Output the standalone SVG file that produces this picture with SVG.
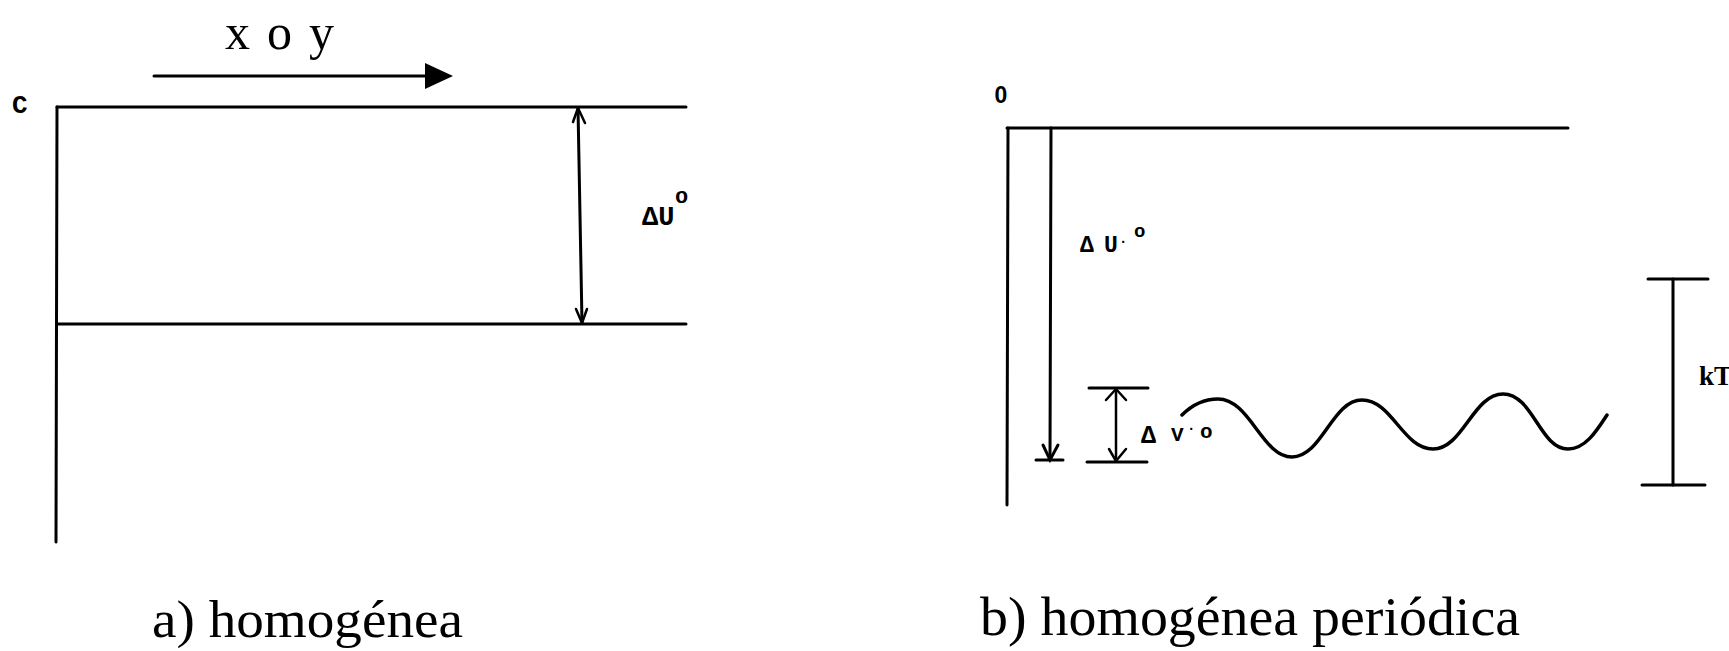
<svg xmlns="http://www.w3.org/2000/svg" width="1729" height="651" viewBox="0 0 1729 651">
<style>
.ln{stroke:#000;stroke-width:3;fill:none;stroke-linecap:round}
.thin{stroke:#000;stroke-width:2.5;fill:none;stroke-linecap:round;stroke-linejoin:round}
.wave{stroke:#000;stroke-width:3.5;fill:none;stroke-linecap:round;stroke-linejoin:round}
.cap{font-family:"Liberation Serif",serif;fill:#000}
.mono{font-family:"Liberation Mono",monospace;font-weight:bold;fill:#000}
.sans{font-family:"Liberation Sans",sans-serif;font-weight:bold;fill:#000}
.bold{font-family:"Liberation Serif",serif;font-weight:bold;fill:#000}
</style>
<rect width="1729" height="651" fill="#fff"/>

<g id="panel-a">
  <g id="a-axes">
    <text class="mono" x="12" y="113" font-size="26">C</text>
    <line class="ln" x1="57" y1="107" x2="686" y2="107"/>
    <line class="ln" x1="57" y1="107" x2="56" y2="542"/>
    <line class="ln" x1="57" y1="324" x2="686" y2="324"/>
  </g>
  <g id="a-direction">
    <text class="cap" x="225" y="49" font-size="50" textLength="109" lengthAdjust="spacing">x o y</text>
  </g>
  <g id="a-label">
    <text class="mono" font-size="27"><tspan x="642" y="225">ΔU</tspan><tspan x="675" y="203" font-size="22">o</tspan></text>
  </g>
  <text class="cap" x="152" y="637" font-size="53" textLength="311" lengthAdjust="spacingAndGlyphs">a) homogénea</text>
</g>

<g id="panel-b">
  <g id="b-axes">
    <text class="sans" x="1001" y="103" font-size="23" text-anchor="middle">0</text>
    <line class="ln" x1="1007" y1="128" x2="1568" y2="128"/>
    <line class="ln" x1="1008" y1="128" x2="1007" y2="505"/>
  </g>
  <g id="b-label-du">
    <text class="mono" font-size="23"><tspan x="1080" y="252">Δ</tspan><tspan x="1104" y="252">U</tspan><tspan x="1119" y="246" font-size="14">·</tspan><tspan x="1134" y="237" font-size="19">o</tspan></text>
  </g>
  <g id="b-label-dv">
    <text class="mono" font-size="25"><tspan x="1141" y="443">Δ</tspan><tspan x="1171" y="441" font-size="21">V</tspan><tspan x="1187" y="433" font-size="14">·</tspan><tspan x="1200" y="438" font-size="21">o</tspan></text>
  </g>
  <g id="b-wave">
    <path class="wave" d="M1182,415 C1192,405 1203,399 1218,399 C1250,399 1262,457 1292,457 C1322,457 1332,400 1362,400 C1392,400 1403,449 1433,449 C1463,449 1473,394 1503,394 C1533,394 1540,449 1568,449 C1585,449 1596,432 1607,415"/>
  </g>
  <g id="b-kt">
    <line class="ln" x1="1648" y1="279" x2="1708" y2="279"/>
    <line class="ln" x1="1673" y1="279" x2="1673" y2="485"/>
    <line class="ln" x1="1642" y1="485" x2="1705" y2="485"/>
    <text class="bold" x="1699" y="385" font-size="27">kT</text>
  </g>
  <text class="cap" x="980" y="635" font-size="55" textLength="540" lengthAdjust="spacingAndGlyphs">b) homogénea periódica</text>
</g>

<g id="connectors">
  <line class="ln" x1="154" y1="76" x2="428" y2="76" stroke-width="4"/>
  <path d="M425,63 L453,76 L425,89 z" fill="#000"/>
  <line class="ln" x1="578" y1="108" x2="582" y2="323"/>
  <path class="thin" d="M573,122 L578,108 L585,123"/>
  <path class="thin" d="M576,309 L582,323 L587,309"/>
  <line class="ln" x1="1051" y1="128" x2="1050" y2="458"/>
  <path class="ln" d="M1043,445 L1050,460 L1058,445"/>
  <line class="ln" x1="1036" y1="460" x2="1063" y2="460"/>
  <line class="ln" x1="1089" y1="388" x2="1148" y2="388"/>
  <line class="ln" x1="1087" y1="462" x2="1147" y2="462"/>
  <line class="thin" x1="1116" y1="389" x2="1116" y2="461"/>
  <path class="thin" d="M1106,400 L1116,389 L1126,400"/>
  <path class="thin" d="M1109,449 L1116,461 L1126,449"/>
</g>
</svg>
